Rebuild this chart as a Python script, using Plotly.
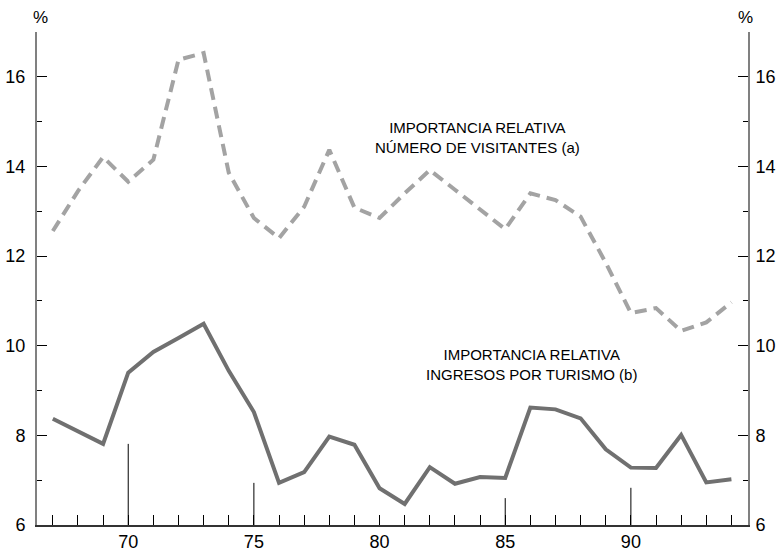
import plotly.graph_objects as go

years = list(range(67, 95))
visitantes = [12.56, 13.45, 14.21, 13.66, 14.15, 16.38, 16.53, 13.86, 12.85, 12.40,
              13.10, 14.37, 13.08, 12.85, 13.40, 13.92, 13.48, 13.03, 12.60, 13.40,
              13.25, 12.88, 11.85, 10.73, 10.84, 10.33, 10.52, 10.97]
ingresos = [8.37, 8.09, 7.81, 9.40, 9.86, 10.17, 10.49, 9.44, 8.52, 6.94,
            7.18, 7.97, 7.79, 6.82, 6.47, 7.29, 6.92, 7.07, 7.05, 8.62,
            8.58, 8.38, 7.69, 7.28, 7.27, 8.01, 6.95, 7.02]

spike_x = [70, 75, 85, 90]
spike_top = [7.81, 6.94, 6.60, 6.83]

x_ticks = [70, 75, 80, 85, 90]
y_ticks = [6, 8, 10, 12, 14, 16]

label_visit = "IMPORTANCIA RELATIVA<br>NÚMERO DE VISITANTES (a)"
label_ingr = "IMPORTANCIA RELATIVA<br>INGRESOS POR TURISMO (b)"

FONT = "Liberation Sans, Arial, sans-serif"

sx, sy = [], []
for x, t in zip(spike_x, spike_top):
    sx += [x, x, None]
    sy += [6, t, None]

fig = go.Figure()
fig.add_trace(go.Scatter(x=sx, y=sy, mode="lines",
                         line=dict(color="black", width=1), hoverinfo="skip"))
fig.add_trace(go.Scatter(x=years, y=visitantes, mode="lines",
                         line=dict(color="#a3a3a3", width=4, dash="12px,7px")))
fig.add_trace(go.Scatter(x=years, y=ingresos, mode="lines",
                         line=dict(color="#707070", width=4)))
# invisible trace to activate right axis
fig.add_trace(go.Scatter(x=[years[0]], y=[ingresos[0]], yaxis="y2", mode="markers",
                         marker=dict(opacity=0), hoverinfo="skip"))

yax = dict(range=[6, 17], tickvals=y_ticks, ticks="inside", ticklen=10, tickwidth=1,
           tickcolor="black", showline=True, linecolor="#808080", linewidth=2,
           showgrid=False, zeroline=False, automargin=False,
           tickfont=dict(size=18, color="black", family=FONT),
           minor=dict(dtick=1, tick0=6, ticks="inside", ticklen=5, tickcolor="black", tickwidth=1, showgrid=False),
           fixedrange=True)

fig.update_layout(
    width=781, height=553,
    margin=dict(l=37, r=33, t=32, b=28),
    paper_bgcolor="white", plot_bgcolor="white",
    showlegend=False,
    font=dict(family=FONT, color="black"),
    xaxis=dict(range=[66.37, 94.66], tickvals=x_ticks, ticks="inside", ticklen=10,
               tickwidth=1, tickcolor="black", showline=True, linecolor="#333333",
               linewidth=1.5, showgrid=False, zeroline=False, automargin=False,
               tickfont=dict(size=18, color="black", family=FONT),
               minor=dict(dtick=1, tick0=67, ticks="inside", ticklen=10, tickcolor="black",
                          tickwidth=1, showgrid=False)),
    yaxis=dict(**yax, side="left", ticklabelstandoff=6),
    yaxis2=dict(**yax, side="right", overlaying="y", ticklabelstandoff=2),
    annotations=[
        dict(x=0, y=1, xref="paper", yref="paper", text="%", showarrow=False,
             xanchor="center", yanchor="bottom", yshift=3, xshift=3, font=dict(size=17)),
        dict(x=1, y=1, xref="paper", yref="paper", text="%", showarrow=False,
             xanchor="center", yanchor="bottom", yshift=3, xshift=-3, font=dict(size=17)),
        dict(x=83.9, y=14.64, xref="x", yref="y", text=label_visit, showarrow=False,
             xanchor="center", yanchor="middle", font=dict(size=15)),
        dict(x=86.05, y=9.59, xref="x", yref="y", text=label_ingr, showarrow=False,
             xanchor="center", yanchor="middle", font=dict(size=15)),
    ],
)

fig.write_html("out.html", config={"displayModeBar": False},
               post_script="document.body.style.margin='0';document.body.style.overflow='hidden';")
